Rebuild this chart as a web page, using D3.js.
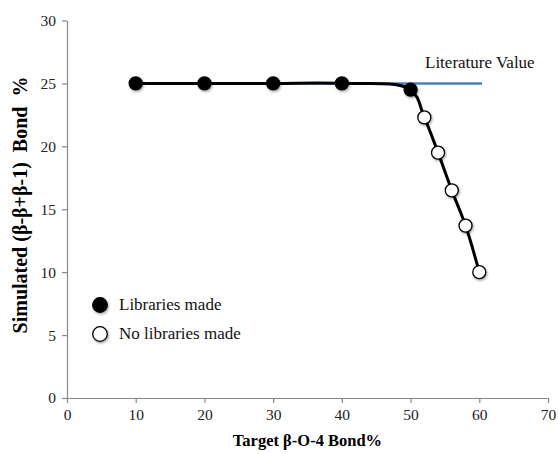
<!DOCTYPE html>
<html>
<head>
<meta charset="utf-8">
<script src="https://cdn.jsdelivr.net/npm/d3@7"></script>
<style>
  body { margin: 0; background: #fff; }
  text { font-family: "Liberation Serif", "Times New Roman", serif; }
</style>
</head>
<body>
<script>
// data
const targetBond = [10, 20, 30, 40, 50, 52, 54, 56, 58, 60];
const simBond = [25, 25, 25, 25, 24.5, 22.3, 19.5, 16.5, 13.7, 10];
const made = [true, true, true, true, true, false, false, false, false, false];
const litX = [10, 60.4];
const litY = [25, 25];
const xTicks = [0, 10, 20, 30, 40, 50, 60, 70];
const yTicks = [0, 5, 10, 15, 20, 25, 30];
const legendLabels = ["Libraries made", "No libraries made"];

const W = 558, H = 454;
const svg = d3.select("body").append("svg")
  .attr("width", W)
  .attr("height", H);

const x = d3.scaleLinear().domain([0, 70]).range([67, 548]);
const y = d3.scaleLinear().domain([0, 30]).range([398, 20.5]);

const defs = svg.append("defs");
const f = defs.append("filter").attr("id", "sh")
  .attr("x", "-50%").attr("y", "-50%").attr("width", "200%").attr("height", "200%");
f.append("feDropShadow")
  .attr("dx", 1).attr("dy", 1.5).attr("stdDeviation", 1.3)
  .attr("flood-color", "#000").attr("flood-opacity", 0.35);

// axes
const xAxis = svg.append("g")
  .attr("transform", "translate(0," + y(0) + ")")
  .call(d3.axisBottom(x).tickValues(xTicks).tickSize(5).tickPadding(6).tickSizeOuter(0));
const yAxis = svg.append("g")
  .attr("transform", "translate(" + x(0) + ",0)")
  .call(d3.axisLeft(y).tickValues(yTicks).tickSize(5).tickPadding(6).tickSizeOuter(0));

[xAxis, yAxis].forEach(a => {
  a.select(".domain").attr("stroke", "#888").attr("stroke-width", 1.2);
  a.selectAll(".tick line").attr("stroke", "#888").attr("stroke-width", 1.2);
  a.selectAll(".tick text")
    .attr("font-family", "Liberation Serif, serif")
    .attr("font-size", 15.5)
    .attr("fill", "#222");
});

// literature value line
svg.append("line")
  .attr("x1", x(litX[0])).attr("x2", x(litX[1]))
  .attr("y1", y(litY[0])).attr("y2", y(litY[1]))
  .attr("stroke", "#4a7ebb")
  .attr("stroke-width", 2.5);

svg.append("text")
  .attr("x", 425)
  .attr("y", 68)
  .attr("font-size", 17)
  .attr("fill", "#111")
  .text("Literature Value");

// simulated curve
const pts = targetBond.map((d, i) => [x(d), y(simBond[i])]);
svg.append("path")
  .attr("d", d3.line().curve(d3.curveCatmullRom.alpha(0.5))(pts))
  .attr("fill", "none")
  .attr("stroke", "#000")
  .attr("stroke-width", 3);

svg.selectAll(".pt")
  .data(targetBond)
  .enter().append("circle")
  .attr("cx", d => x(d))
  .attr("cy", (d, i) => y(simBond[i]))
  .attr("r", 6.5)
  .attr("fill", (d, i) => made[i] ? "#000" : "#fff")
  .attr("stroke", "#000")
  .attr("stroke-width", 1.3)
  .attr("filter", "url(#sh)");

// legend
legendLabels.forEach((lab, i) => {
  svg.append("circle")
    .attr("cx", 100)
    .attr("cy", 305 + i * 29)
    .attr("r", 7.3)
    .attr("fill", i == 0 ? "#000" : "#fff")
    .attr("stroke", "#000")
    .attr("stroke-width", 1.3)
    .attr("filter", "url(#sh)");
  svg.append("text")
    .attr("x", 119)
    .attr("y", 310 + i * 29)
    .attr("font-size", 17)
    .attr("fill", "#111")
    .text(lab);
});

// axis titles
svg.append("text")
  .attr("x", (x(0) + x(70)) / 2)
  .attr("y", 446)
  .attr("text-anchor", "middle")
  .attr("font-size", 16.5)
  .attr("font-weight", "bold")
  .text("Target β-O-4 Bond%");

svg.append("text")
  .attr("transform", "translate(27," + 205 + ") rotate(-90)")
  .attr("text-anchor", "middle")
  .attr("font-size", 20)
  .attr("font-weight", "bold")
  .attr("xml:space", "preserve")
  .text("Simulated (β-β+β-1)  Bond  %");
</script>
</body>
</html>
